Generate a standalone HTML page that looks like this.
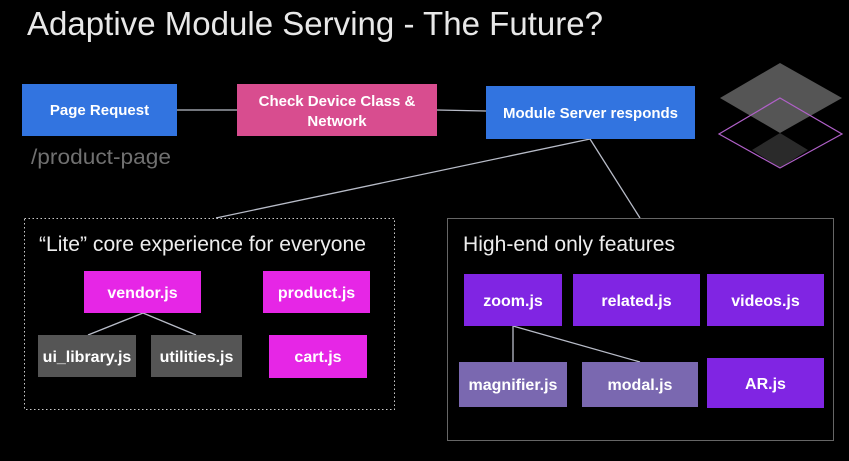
<!DOCTYPE html>
<html><head><meta charset="utf-8"><style>
body{margin:0;width:849px;height:456px;background:#000;overflow:hidden;font-family:"Liberation Sans",sans-serif}
</style></head><body>
<svg width="849" height="456" xmlns="http://www.w3.org/2000/svg" font-family="Liberation Sans, sans-serif">
<rect width="849" height="456" fill="#000"/>
<text x="27" y="35" font-size="33" fill="#e8e8e8" textLength="576" lengthAdjust="spacingAndGlyphs">Adaptive Module Serving - The Future?</text>
<g stroke="#b8bcc8" stroke-width="1.3">
<line x1="177" y1="110" x2="237" y2="110"/>
<line x1="437" y1="110" x2="486" y2="111"/>
<line x1="590" y1="139" x2="216" y2="218"/>
<line x1="590" y1="139" x2="640" y2="218"/>
<line x1="143" y1="313" x2="88" y2="335"/>
<line x1="143" y1="313" x2="196" y2="335"/>
<line x1="513" y1="326" x2="513" y2="362"/>
<line x1="513" y1="326" x2="640" y2="362"/>
</g>
<rect x="22" y="84" width="155" height="52" fill="#3274e0"/>
<rect x="237" y="84" width="200" height="52" fill="#d84d8f"/>
<rect x="486" y="86" width="209" height="53" fill="#3274e0"/>
<g fill="#fff" font-weight="bold" font-size="15" text-anchor="middle">
<text x="99.5" y="115">Page Request</text>
<text x="337" y="106">Check Device Class &amp;</text>
<text x="337" y="126">Network</text>
<text x="590.5" y="118">Module Server responds</text>
</g>
<text x="31" y="164" font-size="21" fill="#707070" textLength="140" lengthAdjust="spacingAndGlyphs">/product-page</text>
<polygon points="780,63 842,98 780,133 720,98" fill="#555"/>
<polygon points="752,150 780,133 808,150 780,168" fill="#2a2a2a"/>
<polygon points="780,98 842,134 780,168 719,134" fill="none" stroke="#b060c8" stroke-width="1.2"/>
<rect x="24.5" y="218.5" width="370" height="191" fill="none" stroke="#ccc" stroke-width="1" stroke-dasharray="1.5,2.5"/>
<rect x="447.5" y="218.5" width="386" height="222" fill="none" stroke="#666" stroke-width="1"/>
<text x="39" y="251" font-size="21" fill="#eee" textLength="327" lengthAdjust="spacingAndGlyphs">“Lite” core experience for everyone</text>
<text x="463" y="251" font-size="21" fill="#eee" textLength="212" lengthAdjust="spacingAndGlyphs">High-end only features</text>
<rect x="84" y="271" width="117" height="42" fill="#e626e6"/>
<rect x="263" y="271" width="107" height="42" fill="#e626e6"/>
<rect x="38" y="335" width="98" height="42" fill="#555"/>
<rect x="151" y="335" width="91" height="42" fill="#555"/>
<rect x="269" y="335" width="98" height="43" fill="#e626e6"/>
<rect x="464" y="274" width="98" height="52" fill="#8025e3"/>
<rect x="573" y="274" width="127" height="52" fill="#8025e3"/>
<rect x="707" y="274" width="117" height="52" fill="#8025e3"/>
<rect x="459" y="362" width="108" height="45" fill="#7a68b0"/>
<rect x="582" y="362" width="116" height="45" fill="#7a68b0"/>
<rect x="707" y="358" width="117" height="50" fill="#8025e3"/>
<g fill="#fff" font-weight="bold" font-size="16" text-anchor="middle">
<text x="142.5" y="298">vendor.js</text>
<text x="316.5" y="298">product.js</text>
<text x="87" y="362">ui_library.js</text>
<text x="196.5" y="362">utilities.js</text>
<text x="318" y="362">cart.js</text>
<text x="513" y="306">zoom.js</text>
<text x="636.5" y="306">related.js</text>
<text x="765.5" y="306">videos.js</text>
<text x="513" y="390">magnifier.js</text>
<text x="640" y="390">modal.js</text>
<text x="765.5" y="389">AR.js</text>
</g>
</svg>
</body></html>
